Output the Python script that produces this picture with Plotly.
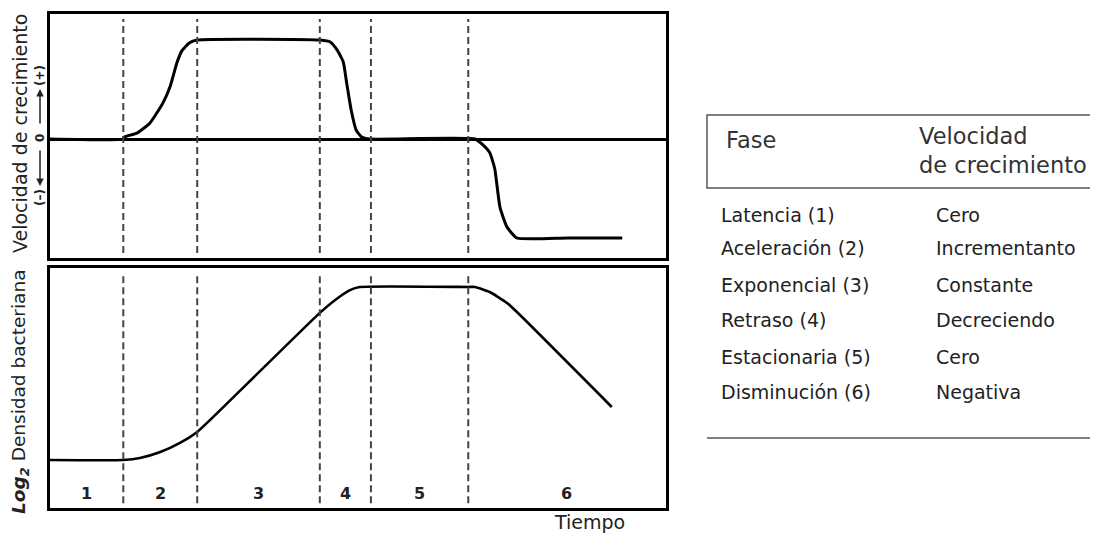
import plotly.graph_objects as go

# ---------------- data ----------------
phase_bounds = [11.9, 23.9, 43.8, 52.1, 67.9]
phase_labels = ["1", "2", "3", "4", "5", "6"]
phase_label_x = [5.9, 17.9, 33.8, 48.0, 60.0, 83.9]

rate_t = [0, 11.9, 12.0, 14.1, 16.2, 18.3, 19.5, 20.6, 21.4, 22.6, 23.9,
          43.8, 45.5, 46.6, 47.6, 48.2, 48.9, 49.7, 50.6, 51.9,
          69.0, 70.1, 71.4, 72.2, 73.05, 74.2, 75.8, 84.0, 92.9]
rate_v = [0, 0, 0.02, 0.06, 0.16, 0.36, 0.53, 0.77, 0.89, 0.97, 1.0,
          1.0, 0.98, 0.90, 0.78, 0.55, 0.29, 0.09, 0.02, 0,
          0, -0.05, -0.14, -0.30, -0.69, -0.89, -1.0, -1.0, -1.0]

dens_t = [0, 11.9, 14.6, 17.9, 21.1, 23.9, 26.0, 43.8, 46.3, 48.7, 50.3,
          67.9, 69.0, 71.4, 74.2, 76.3, 91.2]
dens_v = [2.0, 2.0, 2.08, 2.33, 2.71, 3.17, 3.67, 8.13, 8.67, 9.08, 9.21,
          9.21, 9.21, 9.0, 8.54, 8.04, 4.21]

table_header = ["Fase", "Velocidad<br>de crecimiento"]
phase_names = ["Latencia (1)", "Aceleración (2)", "Exponencial (3)",
               "Retraso (4)", "Estacionaria (5)", "Disminución (6)"]
rate_names = ["Cero", "Incrementanto", "Constante", "Decreciendo", "Cero", "Negativa"]

# ---------------- figure ----------------
OFF = 8                      # page margin of the browser
W, H = 1098 - OFF, 533 - OFF
def px(xp):
    return (xp - OFF) / W
def py(yp):
    return 1 - (yp - OFF) / H

FONT = "DejaVu Sans"
fig = go.Figure()

fig.add_trace(go.Scatter(x=rate_t, y=rate_v, mode="lines",
                         line=dict(color="black", width=3, shape="spline", smoothing=0.45),
                         xaxis="x", yaxis="y", showlegend=False, hoverinfo="skip"))
fig.add_trace(go.Scatter(x=dens_t, y=dens_v, mode="lines",
                         line=dict(color="black", width=2.6, shape="spline", smoothing=0.45),
                         xaxis="x2", yaxis="y2", showlegend=False, hoverinfo="skip"))

axis_common = dict(range=[0, 100], showticklabels=False, ticks="", showgrid=False,
                   zeroline=False, showline=True, mirror=True, linewidth=3,
                   linecolor="black", fixedrange=True)
xdom = [px(50), px(666)]

fig.update_layout(
    width=W, height=H,
    margin=dict(l=0, r=0, t=0, b=0),
    paper_bgcolor="white", plot_bgcolor="white",
    font=dict(family=FONT, color="#222"),
    xaxis=dict(domain=xdom, anchor="y", **axis_common),
    xaxis2=dict(domain=xdom, anchor="y2", **axis_common),
    yaxis=dict(domain=[py(258), py(14)], anchor="x", range=[-1.202, 1.263],
               showticklabels=False, ticks="", showgrid=False, zeroline=True,
               zerolinecolor="black", zerolinewidth=3, showline=True, mirror=True,
               linewidth=3, linecolor="black"),
    yaxis2=dict(domain=[py(508), py(268)], anchor="x2", range=[0, 10],
                showticklabels=False, ticks="", showgrid=False, zeroline=False,
                showline=True, mirror=True, linewidth=3, linecolor="black"),
)

# dashed phase boundaries
for b in phase_bounds:
    for xr, yr in (("x", "y domain"), ("x2", "y2 domain")):
        fig.add_shape(type="line", xref=xr, yref=yr, x0=b, x1=b, y0=0.02, y1=0.98,
                      line=dict(color="#444", width=2, dash="7px,4px"))

# phase numbers
for lab, xl in zip(phase_labels, phase_label_x):
    fig.add_annotation(x=xl, y=0.62, xref="x2", yref="y2", text=f"<b>{lab}</b>",
                       xanchor="center", yanchor="middle", showarrow=False,
                       font=dict(size=16, color="#222", family=FONT))

# axis titles
fig.add_annotation(x=px(20), y=py(134), xref="paper", yref="paper",
                   xanchor="center", yanchor="middle",
                   text="Velocidad de crecimiento", textangle=-90, showarrow=False,
                   font=dict(size=19, color="#222", family=FONT))
fig.add_annotation(x=px(20), y=py(392), xref="paper", yref="paper",
                   xanchor="center", yanchor="middle",
                   text="<b><i>Log<sub>2</sub></i></b> Densidad bacteriana", textangle=-90,
                   showarrow=False, font=dict(size=18.5, color="#222", family=FONT))
fig.add_annotation(x=px(589), y=py(522), xref="paper", yref="paper", text="Tiempo",
                   xanchor="center", yanchor="middle",
                   showarrow=False, font=dict(size=19, color="#222", family=FONT))

# sign markers on velocity axis
for txt, yy in (("(+)", 76), ("0", 138), ("(–)", 198)):
    fig.add_annotation(x=px(40), y=py(yy), xref="paper", yref="paper", text=f"<b>{txt}</b>",
                       xanchor="center", yanchor="middle",
                       textangle=-90, showarrow=False, font=dict(size=12, color="#222", family=FONT))
fig.add_annotation(x=px(40), y=py(89), xref="paper", yref="paper", text="", showarrow=True,
                   ax=0, ay=36, arrowhead=2, arrowsize=1, arrowwidth=1.5, arrowcolor="#222")
fig.add_annotation(x=px(40), y=py(186), xref="paper", yref="paper", text="", showarrow=True,
                   ax=0, ay=-37, arrowhead=2, arrowsize=1, arrowwidth=1.5, arrowcolor="#222")

# table
fig.add_shape(type="rect", xref="paper", yref="paper", x0=px(707), x1=1.01,
              y0=py(188), y1=py(115), line=dict(color="#555", width=1.5))
fig.add_shape(type="line", xref="paper", yref="paper", x0=px(707), x1=1,
              y0=py(438), y1=py(438), line=dict(color="#555", width=1.5))
fig.add_annotation(x=px(724), y=py(140), xref="paper", yref="paper", text=table_header[0],
                   xanchor="left", yanchor="middle", showarrow=False, align="left",
                   font=dict(size=22.5, color="#333", family=FONT))
fig.add_annotation(x=px(917), y=py(150), xref="paper", yref="paper", text=table_header[1],
                   xanchor="left", yanchor="middle", showarrow=False, align="left",
                   font=dict(size=22.5, color="#333", family=FONT))
row_y = [215, 248, 285, 320, 357, 392]
for name, rate, ry in zip(phase_names, rate_names, row_y):
    fig.add_annotation(x=px(719), y=py(ry), xref="paper", yref="paper", text=name,
                       xanchor="left", yanchor="middle", showarrow=False,
                       font=dict(size=19, color="#222", family=FONT))
    fig.add_annotation(x=px(934), y=py(ry), xref="paper", yref="paper", text=rate,
                       xanchor="left", yanchor="middle", showarrow=False,
                       font=dict(size=19, color="#222", family=FONT))

fig.write_html("out.html")
